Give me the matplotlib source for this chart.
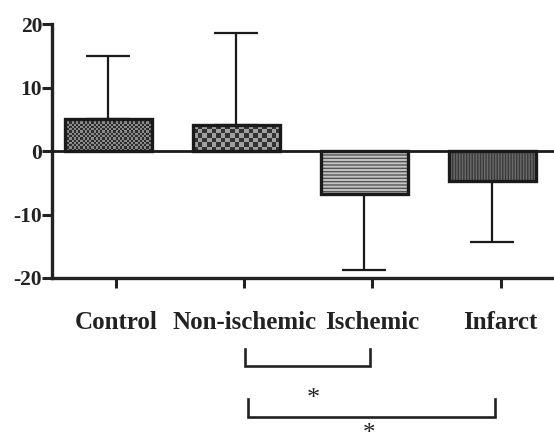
import matplotlib
matplotlib.use("Agg")
import matplotlib.pyplot as plt
import numpy as np

categories = ["Control", "Non-ischemic", "Ischemic", "Infarct"]
means = [5.0, 4.1, -6.8, -4.7]
errors = [10.0, 14.5, 11.9, 9.6]
yticks = [-20, -10, 0, 10, 20]

# style
face = ["#5a5a5a", "#7a7a7a", "#c4c4c4", "#3a3a3a"]
hatch_col = ["#2a2a2a", "#2a2a2a", "#555555", "#6a6a6a"]
hatches = [None, None, "-----", "||||||"]
checker = [(2.2, "#2e2e2e", "#8a8a8a"), (4.7, "#333333", "#a0a0a0"), None, None]
tick_shift = 0.063
bar_w = 0.68

plt.rcParams['font.family'] = ['Liberation Serif', 'DejaVu Serif']
plt.rcParams['hatch.linewidth'] = 1.0

fig = plt.figure(figsize=(5.54, 4.45), dpi=100)
ax = fig.add_axes([0.0939, 0.3753, 0.9061, 0.5707])
ax.set_xlim(-0.4375, 3.48)
ax.set_ylim(-20, 20)

x = np.arange(len(categories))
lower = [0 if m > 0 else e for m, e in zip(means, errors)]
upper = [e if m > 0 else 0 for m, e in zip(means, errors)]
ax.errorbar(x, means, yerr=[lower, upper], fmt='none', ecolor='#1a1a1a',
            elinewidth=1.6, capsize=16, capthick=1.6, zorder=1)

for i in range(len(categories)):
    bars = ax.bar(x[i], means[i], width=bar_w, color=face[i], hatch=hatches[i],
                  edgecolor=hatch_col[i], linewidth=0, zorder=2)
    if checker[i] is not None:
        cell, c1, c2 = checker[i]
        p0 = ax.transData.transform((x[i] - bar_w / 2, 0))
        p1 = ax.transData.transform((x[i] + bar_w / 2, means[i]))
        nx = max(1, int(round(abs(p1[0] - p0[0]) / cell)))
        ny = max(1, int(round(abs(p1[1] - p0[1]) / cell)))
        grid = (np.add.outer(np.arange(ny), np.arange(nx)) % 2).astype(float)
        cmap = matplotlib.colors.ListedColormap([c1, c2])
        im = ax.imshow(grid, cmap=cmap, interpolation='nearest', aspect='auto',
                       extent=(x[i] - bar_w / 2, x[i] + bar_w / 2, 0, means[i]),
                       origin='lower', zorder=2.5)
        im.set_clip_path(bars[0])
    ax.bar(x[i], means[i], width=bar_w, fill=False, edgecolor='#1a1a1a',
           linewidth=2.4, zorder=3)

ax.axhline(0, color='#1a1a1a', linewidth=2.0, zorder=4)

ax.set_xlim(-0.4375, 3.48)
ax.set_ylim(-20, 20)
ax.set_yticks(yticks)
ax.set_yticklabels([str(v) for v in yticks], fontsize=15.5, fontweight='bold',
                   color='#222222')
ax.set_xticks(x + tick_shift)
ax.set_xticklabels([])
ax.tick_params(axis='y', length=7, width=2.2, pad=0, color='#222222')
ax.tick_params(axis='x', length=7, width=2.2, color='#222222')

for s in ['top', 'right']:
    ax.spines[s].set_visible(False)
for s in ['left', 'bottom']:
    ax.spines[s].set_linewidth(2.4)
    ax.spines[s].set_color('#222222')

for i, c in enumerate(categories):
    ax.text(x[i] + tick_shift, -28.0, c, ha='center', va='baseline',
            fontsize=18, fontweight='bold', color='#222222', clip_on=False)

def bracket(x0, x1, ytop, ybot):
    ax.plot([x0, x0, x1, x1], [ytop, ybot, ybot, ytop], color='#222222',
            linewidth=1.9, clip_on=False, solid_joinstyle='miter')

bracket(1.07, 2.047, -31.2, -33.9)
ax.text(1.60, -39.0, '*', ha='center', va='center', fontsize=19,
        color='#222222', clip_on=False)
bracket(1.094, 3.016, -39.0, -41.85)
ax.text(2.04, 0.5 / 445, '*', ha='center', va='bottom', fontsize=18,
        color='#222222', clip_on=False,
        transform=matplotlib.transforms.blended_transform_factory(ax.transData, fig.transFigure))

fig.savefig("out.png", dpi=100)
